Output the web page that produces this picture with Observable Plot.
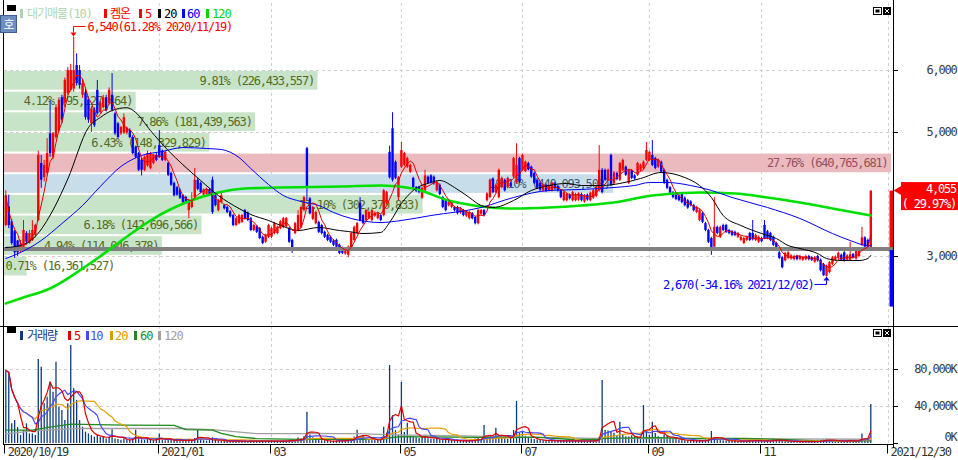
<!DOCTYPE html>
<html lang="ko"><head><meta charset="utf-8"><title>켐온</title>
<script src="https://cdn.jsdelivr.net/npm/d3@7"></script>
<script src="https://cdn.jsdelivr.net/npm/@observablehq/plot@0.6"></script>
<style>
html,body{margin:0;padding:0;background:#fff;}
#root{position:relative;width:958px;height:460px;overflow:hidden;background:#fff;}
</style></head><body><div id="root"></div>
<script>
// ---------------- DATA ----------------
const tickIdx = [0, 52, 90, 134, 175, 218, 256, 299];
const tickLabels = ["2020/10/19", "2021/01", "03", "05", "07", "09", "11", "2021/12/30"];

const opens = [
3500,3800,3560,3400,3250,3100,3150,3370,3210,3260,
3340,3580,4500,4270,4340,4980,4600,4920,5030,5560,
5470,5630,5680,5700,6080,6000,5600,5640,5520,5140,
5360,5680,5320,5400,5560,5470,5600,5300,5140,4980,
4990,4990,5030,4920,4760,4660,4550,4390,4460,4420,
4500,4630,4790,4700,4550,4500,4340,4180,4110,4070,
3980,3950,3740,3790,3950,4230,4180,3990,4000,4080,
4230,3980,3740,3870,3820,3790,3720,3660,3500,3530,
3550,3740,3700,3610,3420,3480,3450,3310,3230,3310,
3310,3370,3370,3450,3470,3480,3450,3260,3370,3420,
3470,3740,4740,3930,3600,3530,3550,3500,3390,3340,
3310,3250,3260,3180,3130,3040,3020,3130,3260,3370,
3860,3660,3580,3610,3580,3650,3610,3660,3660,3860,
4680,5060,4520,3950,4440,4470,4440,4360,4260,4110,
4110,3940,4060,4280,4300,4280,4060,4150,3950,3900,
3820,3790,3790,3790,3700,3740,3650,3610,3690,3630,
3530,3680,3740,3900,3950,4250,4030,3950,4110,4230,
4110,4180,4280,4190,4580,4390,4370,4500,4440,4340,
4230,4180,4060,4150,4060,4060,4170,4130,4060,3900,
3900,3990,3900,3900,3910,4000,3880,3990,3900,3940,
3970,4060,4390,4390,4230,4630,4170,4340,4230,4390,
4440,4180,4380,4300,4310,4390,4420,4550,4550,4630,
4580,4440,4520,4390,4230,4110,4030,3990,3980,4000,
3940,3900,3880,3820,3710,3580,3690,3530,3420,3290,
3150,3470,3310,3500,3500,3420,3400,3390,3310,3260,
3210,3260,3370,3370,3260,3230,3290,3500,3400,3370,
3310,3210,3060,2980,2930,2970,2960,2950,3000,2950,
2940,2950,3000,2980,2910,3000,2940,2870,2680,2740,
2870,2940,2970,3020,3060,2940,2940,3030,2960,3000,
3180,3300,3260,3140];
const highs = [
4060,3990,3600,3420,3260,3260,3580,3400,3420,3580,
3520,4700,4630,4550,4900,5510,5000,5450,5560,5600,
5880,6050,6100,6540,6270,6080,5850,5700,5560,5420,
5400,5840,5500,5600,5600,5720,5950,5330,5160,5100,
5300,5090,5060,4950,4780,4680,4580,4620,4700,4680,
4650,4660,5030,4720,4700,4520,4360,4200,4130,4090,
4000,3970,3920,4030,4420,4260,4200,4090,4100,4100,
4280,4000,3920,4050,3840,3810,3740,3680,3630,3680,
3680,3760,3720,3630,3520,3500,3470,3330,3360,3520,
3470,3550,3490,3580,3630,3630,3470,3280,3550,3740,
3810,3970,4760,3950,3810,3730,3570,3520,3410,3360,
3330,3270,3280,3200,3150,3120,3170,3390,3490,3550,
3950,3680,3760,3730,3760,3720,3710,3680,4080,4050,
4780,5320,4540,4290,4840,4680,4600,4490,4280,4130,
4130,4120,4390,4300,4320,4300,4210,4170,3970,3920,
3890,3890,3810,3810,3790,3760,3740,3730,3710,3650,
3760,3760,3760,4030,4250,4270,4170,4410,4280,4250,
4280,4200,4600,4820,4600,4650,4540,4520,4460,4360,
4250,4200,4170,4170,4150,4200,4190,4150,4080,4050,
4020,4010,4050,4020,4030,4020,4000,4010,4040,4080,
4140,4790,4420,4410,4410,4650,4370,4360,4520,4570,
4460,4410,4400,4320,4520,4490,4540,4840,4700,4870,
4600,4570,4540,4410,4250,4130,4050,4010,4000,4020,
3960,3920,3900,3840,3810,3760,3710,3550,3440,3310,
3950,3490,3490,3520,3520,3440,3420,3410,3390,3330,
3310,3330,3390,3580,3360,3330,3310,3580,3420,3390,
3330,3230,3080,3000,3070,3080,3030,3020,3020,3020,
3000,3020,3020,3000,3000,3020,2960,2890,2860,2920,
3000,3010,3070,3040,3080,3030,3230,3050,3120,3120,
3470,3320,3280,4055];
const lows = [
3480,3450,3180,2970,3000,3060,3120,3200,3200,3240,
3300,3560,4100,4200,4300,4600,4560,4880,5000,5150,
5400,5600,5650,5650,5750,5700,5550,5200,5150,5000,
5080,5280,5300,5380,5330,5440,5330,4950,4900,4950,
4970,4960,4900,4640,4580,4370,4300,4370,4440,4400,
4480,4530,4580,4530,4530,4290,4130,3960,3970,3920,
3850,3840,3610,3770,3920,4060,4010,3970,3980,3970,
3680,3800,3720,3850,3750,3690,3620,3480,3480,3510,
3530,3590,3560,3400,3400,3370,3270,3190,3210,3290,
3290,3350,3350,3430,3450,3460,3210,3050,3350,3400,
3450,3720,3900,3670,3580,3510,3370,3350,3290,3240,
3210,3160,3130,3030,3030,3020,2980,3110,3240,3350,
3560,3510,3560,3590,3560,3630,3590,3560,3640,3840,
4250,4200,4240,3900,4420,4450,4420,4340,4090,4030,
4010,3920,4040,4160,4170,4150,4040,3980,3770,3720,
3800,3770,3720,3670,3680,3640,3630,3590,3590,3510,
3510,3660,3640,3880,3930,4010,4010,3930,4090,4040,
4090,4110,4260,4170,4180,4370,4350,4380,4260,4160,
4080,4050,4040,4030,4040,4040,4070,4040,3930,3880,
3880,3910,3880,3880,3890,3880,3860,3890,3880,3920,
3950,4040,4010,4210,4210,4130,4150,4220,4210,4370,
4290,4160,4240,4230,4290,4370,4400,4530,4530,4450,
4400,4420,4340,4160,4080,4000,3930,3900,3880,3850,
3800,3760,3800,3720,3690,3560,3530,3400,3210,3020,
3130,3350,3290,3400,3370,3350,3320,3320,3290,3240,
3190,3240,3240,3250,3240,3210,3220,3270,3270,3240,
3160,3080,2950,2800,2910,2950,2940,2930,2930,2930,
2920,2930,2930,2920,2890,2910,2750,2680,2670,2720,
2850,2920,2950,2920,2910,2920,2920,2960,2940,2980,
3160,3130,3110,3120];
const closes = [
3980,3500,3210,3060,3060,3200,3420,3230,3370,3420,
3500,4630,4230,4470,4660,4660,4980,5400,5520,5200,
5840,6000,6000,6000,5790,5760,5790,5240,5200,5380,
5110,5300,5470,5560,5350,5680,5360,4980,4920,5080,
5240,5070,4920,4660,4600,4390,4390,4600,4660,4660,
4640,4550,4600,4550,4680,4310,4150,3980,3990,3940,
3870,3860,3900,3900,4230,4080,4030,4070,4080,3990,
3710,3820,3900,3980,3770,3710,3640,3500,3610,3660,
3660,3610,3580,3420,3500,3390,3290,3210,3340,3500,
3450,3530,3470,3560,3610,3610,3230,3100,3530,3660,
3790,3950,4100,3690,3790,3710,3390,3370,3310,3260,
3230,3180,3150,3050,3050,3100,3150,3370,3470,3530,
3580,3530,3740,3710,3740,3700,3690,3580,4060,4030,
4270,4230,4260,4270,4710,4660,4580,4470,4110,4050,
4030,4100,4300,4180,4190,4170,4190,4000,3790,3740,
3870,3870,3740,3690,3770,3660,3720,3710,3610,3530,
3740,3740,3660,4010,4230,4030,4150,4390,4260,4060,
4260,4130,4580,4470,4200,4630,4520,4400,4280,4180,
4100,4070,4150,4050,4130,4180,4090,4060,3950,4030,
4000,3930,4030,4000,4010,3900,3980,3910,4020,4060,
4120,4390,4030,4230,4390,4150,4350,4240,4500,4550,
4310,4390,4260,4250,4500,4470,4520,4710,4680,4470,
4420,4550,4360,4180,4100,4020,3950,3920,3900,3870,
3820,3780,3820,3740,3790,3740,3550,3420,3230,3130,
3470,3370,3470,3420,3390,3370,3340,3340,3370,3310,
3290,3310,3260,3270,3340,3310,3240,3290,3290,3260,
3180,3100,2970,2820,3050,3060,3010,3000,2950,3000,
2980,3000,2950,2940,2980,2930,2770,2690,2840,2900,
2980,2990,3050,2940,2930,3010,3030,2980,3100,3100,
3300,3150,3120,4055];

// volume, thousands of shares (K)
const volumes = [
78900,75300,21300,24900,17300,8600,14000,21300,10400,10400,
8600,90800,82500,42900,50100,66300,55500,87900,39300,35700,
24900,42900,105900,59100,46500,24900,17700,12300,10400,8600,
6800,8600,6800,6500,5000,6800,15000,4800,4200,3500,
5200,3800,3200,4500,14400,4600,3900,3300,5100,3600,
3100,4200,10400,3800,2900,4100,3300,2800,4600,3200,
2600,3000,4700,3500,5500,15000,4300,3100,2600,3900,
6200,3200,2700,2300,2900,2100,2500,3400,2200,2600,
2400,2800,2100,3300,2500,2000,2700,2900,2300,3100,
2600,2400,2800,2300,2900,2500,3600,4100,3000,6000,
4800,7300,33800,9200,6100,4300,3500,3100,2800,2600,
2400,2300,2700,3400,2900,3100,4400,5200,6900,14400,
7400,8600,4800,4200,3600,3900,3300,4100,17700,11200,
84300,30000,14000,9000,66000,12000,22000,8000,7200,6100,
5400,7800,8900,5200,4700,4300,5600,3900,4600,3700,
3400,3100,2900,3300,2800,2600,3100,2900,3600,4800,
5900,4300,19500,7200,6500,5300,16600,8700,6400,5100,
4600,5800,14100,45400,11300,12300,7900,5600,4800,4200,
3700,3400,3100,2900,3300,3000,2700,2500,2900,3200,
2800,2500,2700,3100,2600,2400,2800,2500,3000,3400,
4100,6800,68100,14000,13500,12800,11000,8500,23000,9600,
7400,6900,8300,7100,6500,5900,41100,12400,8800,23000,
10800,7200,6300,9400,7800,5600,4900,4300,3800,3400,
3100,2900,3300,2700,2500,2800,3200,3900,4300,13000,
6100,4200,3500,3100,2800,2600,2400,2900,2500,2300,
2600,2900,3400,2700,3600,2800,2500,2300,2700,3300,
4800,3900,3100,2600,2400,2200,2000,2300,1900,2100,
1800,2000,1700,2200,2400,2600,3100,3900,4700,3600,
2900,2500,2300,2700,2400,2800,3700,2600,3100,3500,
10400,5200,4600,42200];

// price moving averages (they include days before the window)
const ma20Idx = [0,5,10,16,21,28,32,36,41,44,49,55,60,66,72,79,83,89,94,99,106,113,116,121,127,130,134,138,144,147,152,157,161,165,172,178,184,190,195,202,208,215,222,230,235,239,243,249,256,261,265,269,275,278,283,289,292,293];
const ma20Val = [3145,3177,3323,3750,4250,5080,5242,5355,5400,5323,5032,4710,4480,4226,3984,3774,3677,3581,3484,3419,3468,3419,3403,3371,3387,3548,3855,4065,4194,4226,4113,3952,3823,3790,3903,4065,4145,4178,4145,4145,4178,4258,4355,4274,4145,3952,3661,3500,3371,3290,3177,3129,3048,2968,2935,2935,2968,3016];
const ma60Idx = [0,5,12,19,26,32,39,46,53,60,68,73,79,83,89,94,100,106,111,117,127,134,144,161,172,184,195,206,213,218,224,232,239,246,258,269,280,286,292,293];
const ma60Val = [2968,3065,3258,3532,3823,4129,4452,4629,4694,4758,4742,4726,4597,4419,4161,3984,3887,3823,3710,3613,3548,3581,3661,3790,3952,4065,4081,4113,4145,4194,4194,4145,4065,3952,3790,3613,3371,3258,3177,3180];
const ma120Idx = [0,5,15,29,43,49,61,72,81,93,114,127,138,150,161,172,184,195,206,219,235,247,258,269,280,293];
const ma120Val = [2242,2323,2484,2903,3387,3581,3871,4032,4097,4113,4129,4145,4097,3903,3807,3774,3790,3823,3871,3984,4032,4016,3952,3871,3774,3661];

// volume moving averages 60 / 120 (K)
const vol60Idx = [0,9,15,22,40,57,61,70,73,78,85,100,119,128,130,134,160,180,192,200,203,220,232,250,265,277,293];
const vol60Val = [14400,14400,17700,21000,19800,19500,15000,14400,11000,7500,5300,4500,4500,4800,6200,7400,6700,6700,4300,4300,5500,6400,5400,5400,4200,2500,2800];
const vol120Idx = [0,9,24,58,70,85,119,132,160,200,250,293];
const vol120Val = [10400,13700,16200,16200,15000,10700,10700,9400,8000,5500,5000,4600];

// 대기매물 (volume at price) bands
const bandLow  = [5667,5334,5001,4668,4335,4002,3669,3336,3003,2670];
const bandHigh = [6000,5667,5334,5001,4668,4335,4002,3669,3336,3003];
const bandPct  = [9.81,4.12,7.86,6.43,27.76,19.10,13.10,6.18,4.94,0.71];
const bandVol  = [226433557,95127464,181439563,148329829,640765681,440093508,302370833,142696566,114046378,16361527];

const priceTicks = [3000, 5000, 6000];
const volTicks = [0, 40000, 80000];
const prevClose = 3120, lastClose = 4055, lastChangeText = "( 29.97%)", limitDown = 2184;
const hiIdx = 23, hiVal = 6540, hiText = "6,540(61.28% 2020/11/19)";
const loIdx = 278, loVal = 2670, loText = "2,670(-34.16% 2021/12/02)";

// ---------------- CHART ----------------
const FONT = "'DejaVu Sans Mono','Noto Sans CJK KR',monospace";
const W = 958, MAIN_H = 326, VOL_H = 134;
const xDomain = [-0.44, 300.69];
const yDomain = [1887, 7081];
const volDomain = [0, 126500];
const RED = "#ff0000", BLUE = "#0000ff";
const GRID = "#cfcfcf";
const baseStyle = {background: "transparent", fontFamily: FONT, fontSize: "12px", letterSpacing: "-1.2px", overflow: "visible", color: "#333"};
const root = document.getElementById("root");
function place(svg, top) {
  svg.style.position = "absolute"; svg.style.left = "0px"; svg.style.top = top + "px";
  root.appendChild(svg);
}
const fmt = d3.format(",");

const candles = closes.map((c, i) => ({i, o: opens[i], h: highs[i], l: lows[i], c}));
const cColor = d => d.c >= d.o ? RED : BLUE;
const toPts = (idx, val) => idx.map((i, k) => ({i, v: val[k]}));
const ma20 = toPts(ma20Idx, ma20Val), ma60 = toPts(ma60Idx, ma60Val), ma120 = toPts(ma120Idx, ma120Val);
const vol60 = toPts(vol60Idx, vol60Val), vol120 = toPts(vol120Idx, vol120Val);
const volData = volumes.map((v, i) => ({i, v}));
const tickData = tickIdx.map((x, k) => ({x, label: tickLabels[k]}));

const mainFrame = {width: W, height: MAIN_H, marginLeft: 4, marginRight: 65, marginTop: 3, marginBottom: 1};

// layer 1: grid
const gridPlot = Plot.plot({...mainFrame, style: baseStyle,
  x: {domain: xDomain, axis: null}, y: {domain: yDomain, axis: null},
  marks: [
    Plot.ruleX(tickIdx.slice(1), {stroke: GRID, strokeDasharray: "3,3"}),
    Plot.ruleY(priceTicks, {stroke: GRID, strokeDasharray: "3,3"})
  ]});
place(gridPlot, 0);

// layer 2: volume-at-price bands
const maxBand = d3.max(bandVol);
const bands = bandPct.map((p, k) => ({p, v: bandVol[k], lo: bandLow[k], hi: bandHigh[k],
  kind: bandVol[k] === maxBand ? "max" : (lastClose >= bandLow[k] && lastClose < bandHigh[k] ? "cur" : "other")}));
const bandFill = {max: "#ebbabf", cur: "#c7deea", other: "#c8e4c8"};
const bandInk = {max: "#9a4f5c", cur: "#3e5a74", other: "#556b1f"};
const bandLabel = d => `${d.p.toFixed(2)}% (${fmt(d.v)})`;
const bandPlot = Plot.plot({width: W, height: MAIN_H, marginLeft: 4, marginRight: 67, marginTop: 3, marginBottom: 1,
  style: baseStyle, color: {type: "identity"},
  x: {domain: [0, maxBand], axis: null}, y: {domain: yDomain, axis: null},
  marks: [
    Plot.rect(bands, {x1: 0, x2: "v", y1: "lo", y2: "hi", fill: d => bandFill[d.kind], insetTop: 1, insetBottom: 1}),
    Plot.text(bands.filter(d => d.p >= 2), {x: "v", y: d => (d.lo + d.hi) / 2, text: bandLabel, textAnchor: "end", dx: -4, fill: d => bandInk[d.kind]}),
    Plot.text(bands.filter(d => d.p < 2), {x: 0, y: d => (d.lo + d.hi) / 2, text: bandLabel, textAnchor: "start", dx: 1, fill: d => bandInk[d.kind]})
  ]});
place(bandPlot, 0);

// layer 3: candles, MAs
const mainPlot = Plot.plot({...mainFrame, style: baseStyle, color: {type: "identity"},
  x: {domain: xDomain, axis: null}, y: {domain: yDomain, axis: null},
  marks: [
    Plot.ruleX(candles, {x: "i", y1: "l", y2: "h", stroke: cColor, strokeWidth: 1}),
    Plot.ruleX(candles, {x: "i", y1: "o", y2: "c", stroke: cColor, strokeWidth: 2.4}),
    Plot.ruleY([prevClose], {stroke: "#808080", strokeWidth: 4}),
    Plot.line(ma120, {x: "i", y: "v", stroke: "#00e000", strokeWidth: 2.6, curve: "monotone-x"}),
    Plot.line(ma60, {x: "i", y: "v", stroke: "#0000ff", strokeWidth: 1, curve: "monotone-x"}),
    Plot.line(ma20, {x: "i", y: "v", stroke: "#000000", strokeWidth: 1, curve: "monotone-x"}),
    Plot.lineY(candles, Plot.windowY({k: 5, anchor: "end"}, {x: "i", y: "c", stroke: "#e00000", strokeWidth: 1})),
    Plot.text(priceTicks, {y: d => d, text: d => fmt(d), frameAnchor: "right", textAnchor: "end", dx: 63, fill: "#3a3a3a"})
  ]});
place(mainPlot, 0);

{
  const sx = mainPlot.scale("x"), sy = mainPlot.scale("y");
  const g = d3.select(mainPlot).append("g").attr("text-anchor", "start");
  const xr = sx.apply(xDomain[1]);
  // right ticks
  priceTicks.forEach(v => g.append("line").attr("x1", xr).attr("x2", xr + 5).attr("y1", Math.round(sy.apply(v)) + 0.5).attr("y2", Math.round(sy.apply(v)) + 0.5).attr("stroke", "#000"));
  // limit bars at right edge
  const yUp = sy.apply(lastClose), yPrev = sy.apply(prevClose), yDn = sy.apply(limitDown);
  g.append("rect").attr("x", xr - 3.5).attr("width", 3.5).attr("y", yUp).attr("height", yPrev - 1.5 - yUp).attr("fill", RED);
  g.append("rect").attr("x", xr - 3.5).attr("width", 3.5).attr("y", yPrev + 1.5).attr("height", yDn - yPrev - 1.5).attr("fill", BLUE);
  // price box
  g.append("path").attr("d", `M${xr + 0.5},${yUp} L${xr + 9},${yUp - 5} L${xr + 9},${yUp + 5} Z`).attr("fill", RED);
  g.append("rect").attr("x", xr + 8).attr("y", yUp - 8.5).attr("width", W - xr - 8).attr("height", 28).attr("fill", RED);
  g.append("text").attr("x", 956).attr("y", yUp + 2.5).attr("text-anchor", "end").attr("fill", "#fff").text(fmt(lastClose));
  g.append("text").attr("x", 956).attr("y", yUp + 17).attr("text-anchor", "end").attr("fill", "#fff").text(lastChangeText);
  // high annotation
  const hx = Math.round(sx.apply(hiIdx)) + 0.5, hy = sy.apply(hiVal);
  g.append("path").attr("d", `M${hx - 3},${hy - 4} L${hx + 3},${hy - 4} L${hx},${hy} Z`).attr("fill", RED);
  g.append("path").attr("d", `M${hx},${hy - 4} V${hy - 10} H${hx + 12}`).attr("fill", "none").attr("stroke", RED);
  g.append("text").attr("x", hx + 14).attr("y", hy - 10).attr("dy", "0.35em").attr("text-anchor", "start").attr("fill", RED).text(hiText);
  // low annotation
  const lx = Math.round(sx.apply(loIdx)) + 0.5, ly = sy.apply(loVal);
  g.append("path").attr("d", `M${lx - 3},${ly + 4} L${lx + 3},${ly + 4} L${lx},${ly} Z`).attr("fill", BLUE);
  g.append("path").attr("d", `M${lx},${ly + 4} V${ly + 8} H${lx - 12}`).attr("fill", "none").attr("stroke", BLUE);
  g.append("text").attr("x", lx - 13).attr("y", ly + 8).attr("dy", "0.35em").attr("text-anchor", "end").attr("fill", BLUE).text(loText);
}

// volume panel
const volPlot = Plot.plot({width: W, height: VOL_H, marginLeft: 4, marginRight: 65, marginTop: 0, marginBottom: 17,
  style: baseStyle, color: {type: "identity"},
  x: {domain: xDomain, axis: null}, y: {domain: volDomain, axis: null},
  marks: [
    Plot.ruleX(tickIdx.slice(1), {stroke: GRID, strokeDasharray: "3,3"}),
    Plot.ruleY(volTicks.slice(1), {stroke: GRID, strokeDasharray: "3,3"}),
    Plot.ruleX(volData, {x: "i", y1: 0, y2: "v", stroke: "#0d3b80", strokeWidth: 1.3}),
    Plot.line(vol120, {x: "i", y: "v", stroke: "#a0a0a0", strokeWidth: 1.3}),
    Plot.line(vol60, {x: "i", y: "v", stroke: "#1f8a1f", strokeWidth: 1.3}),
    Plot.lineY(volData, Plot.windowY({k: 20, anchor: "end"}, {x: "i", y: "v", stroke: "#e8a000", strokeWidth: 1.2})),
    Plot.lineY(volData, Plot.windowY({k: 10, anchor: "end"}, {x: "i", y: "v", stroke: "#4848ff", strokeWidth: 1.2})),
    Plot.lineY(volData, Plot.windowY({k: 5, anchor: "end"}, {x: "i", y: "v", stroke: "#e00000", strokeWidth: 1.2})),
    Plot.text(volTicks.slice(1), {y: d => d, text: d => fmt(d) + "K", frameAnchor: "right", textAnchor: "end", dx: 63, fill: "#3a3a3a"}),
    Plot.text(volTicks.slice(0, 1), {y: d => d, text: d => fmt(d) + "K", frameAnchor: "right", textAnchor: "end", dx: 63, dy: -6, fill: "#3a3a3a"}),
    Plot.text(tickData, {x: "x", text: "label", frameAnchor: "bottom", textAnchor: "start", lineAnchor: "top", dx: 2, dy: 4, fill: "#333"})
  ]});
place(volPlot, MAIN_H);
{
  const sx = volPlot.scale("x"), sy = volPlot.scale("y");
  const g = d3.select(volPlot).append("g");
  const xr = sx.apply(xDomain[1]);
  volTicks.forEach(v => g.append("line").attr("x1", xr).attr("x2", xr + 5).attr("y1", Math.round(sy.apply(v)) + 0.5).attr("y2", Math.round(sy.apply(v)) + 0.5).attr("stroke", "#000"));
  const yb = sy.apply(0) + 1.5;
  g.append("line").attr("x1", 4).attr("x2", xr).attr("y1", yb).attr("y2", yb).attr("stroke", "#000");
  tickIdx.forEach(t => { const x = Math.round(sx.apply(t)) - 0.5; g.append("line").attr("x1", x).attr("x2", x).attr("y1", yb).attr("y2", yb + 9).attr("stroke", "#000"); });
}

// chrome: frame lines, legends, buttons
const chrome = d3.select(root).append("svg").attr("width", W).attr("height", 460)
  .style("position", "absolute").style("left", "0px").style("top", "0px")
  .style("font-family", FONT).style("font-size", "12px").style("letter-spacing", "-1px");
chrome.append("line").attr("x1", 3.5).attr("x2", 3.5).attr("y1", 0).attr("y2", 445).attr("stroke", "#000");
chrome.append("line").attr("x1", 893.5).attr("x2", 893.5).attr("y1", 0).attr("y2", 448).attr("stroke", "#000");
chrome.append("line").attr("x1", 0).attr("x2", W).attr("y1", 326.5).attr("y2", 326.5).attr("stroke", "#000");

function legend(items, y) {
  items.forEach(([mx, tx, color, label]) => {
    chrome.append("rect").attr("x", mx).attr("y", y - 9).attr("width", 3).attr("height", 9).attr("fill", color);
    chrome.append("text").attr("x", tx).attr("y", y).attr("fill", color).text(label);
  });
}
legend([[20, 27, "#aed6ae", "대기매물(10)"], [104, 110, RED, "켐온"], [139, 145, RED, "5"], [158, 164, "#000", "20"], [182, 187, BLUE, "60"], [206, 212, "#00d800", "120"]], 18);
legend([[20, 27, "#0d3b80", "거래량"], [68, 74, "#e00000", "5"], [86, 90, "#4848ff", "10"], [110, 115, "#e09a00", "20"], [134, 140, "#1f8a1f", "60"], [158, 164, "#a0a0a0", "120"]], 340);

function boxes(y) {
  chrome.append("rect").attr("x", 7).attr("y", y - 2).attr("width", 9).attr("height", 6).attr("fill", "#000");
  chrome.append("rect").attr("x", 873.5).attr("y", y + 0.5).attr("width", 8).attr("height", 7).attr("fill", "#fff").attr("stroke", "#000");
  chrome.append("rect").attr("x", 875.5).attr("y", y + 2.5).attr("width", 4).attr("height", 3).attr("fill", "#000");
  chrome.append("rect").attr("x", 883).attr("y", y).attr("width", 8).attr("height", 8).attr("fill", "#000");
  chrome.append("path").attr("d", `M${885},${y + 2} L${889},${y + 6} M${889},${y + 2} L${885},${y + 6}`).attr("stroke", "#fff");
}
boxes(7); boxes(329);
chrome.append("rect").attr("x", 0.5).attr("y", 15.5).attr("width", 16).attr("height", 17).attr("fill", "#6d8fbf").attr("stroke", "#3d5f8f");
chrome.append("text").attr("x", 8.5).attr("y", 28.5).attr("text-anchor", "middle").attr("fill", "#fff")
  .style("font-family", "'Noto Sans CJK KR'").style("font-size", "12px").text("호");
</script></body></html>
